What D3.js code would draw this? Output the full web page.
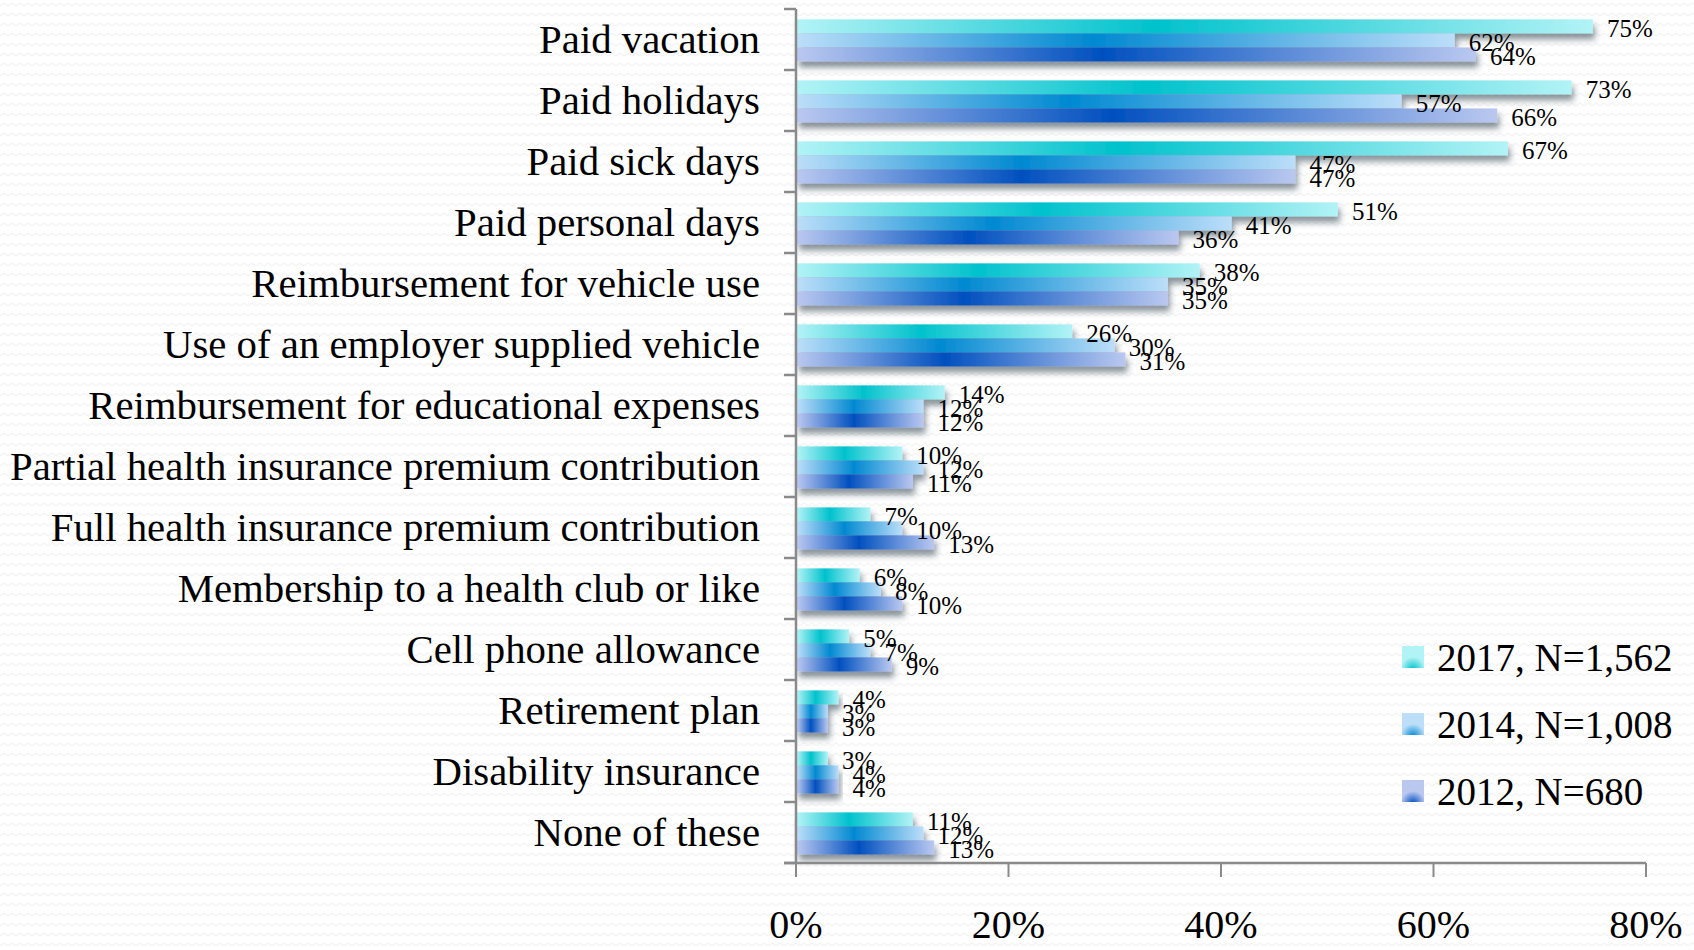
<!DOCTYPE html>
<html>
<head>
<meta charset="utf-8">
<script src="https://cdn.jsdelivr.net/npm/d3@7"></script>
<style>
  body { margin: 0; background: #fff; overflow: hidden; }
  text { font-family: "Liberation Serif", "Times New Roman", serif; fill: #000; }
</style>
</head>
<body>
<script>
const width = 1694;
const height = 950;

// Data
const categories = [
  "Paid vacation",
  "Paid holidays",
  "Paid sick days",
  "Paid personal days",
  "Reimbursement for vehicle use",
  "Use of an employer supplied vehicle",
  "Reimbursement for educational expenses",
  "Partial health insurance premium contribution",
  "Full health insurance premium contribution",
  "Membership to a health club or like",
  "Cell phone allowance",
  "Retirement plan",
  "Disability insurance",
  "None of these"
];
const seriesNames = ["2017, N=1,562", "2014, N=1,008", "2012, N=680"];
const values2017 = [75, 73, 67, 51, 38, 26, 14, 10, 7, 6, 5, 4, 3, 11];
const values2014 = [62, 57, 47, 41, 35, 30, 12, 12, 10, 8, 7, 3, 4, 12];
const values2012 = [64, 66, 47, 36, 35, 31, 12, 11, 13, 10, 9, 3, 4, 13];
const xTicks = [0, 20, 40, 60, 80];

// colours: [edge, centre] for each series gradient
const seriesColors = [
  ["#b2f3f6", "#00c2cc"],
  ["#bcdef9", "#0089d1"],
  ["#bac8f0", "#0050bf"]
];

const allValues = [values2017, values2014, values2012];

const svg = d3.select("body")
  .append("svg")
  .attr("width", width)
  .attr("height", height);

const defs = svg.append("defs");

// zigzag background
const pat = defs.append("pattern")
  .attr("id", "zigzag")
  .attr("patternUnits", "userSpaceOnUse")
  .attr("width", 8)
  .attr("height", 10);
pat.append("path")
  .attr("d", "M0,6 L4,3 L8,6")
  .attr("fill", "none")
  .attr("stroke", "#f3f3f3")
  .attr("stroke-width", 1.4);

svg.append("rect").attr("width", width).attr("height", height).attr("fill", "#fff");
svg.append("rect").attr("width", width).attr("height", height).attr("fill", "url(#zigzag)");

// bar gradients
seriesColors.forEach((c, i) => {
  const g = defs.append("linearGradient")
    .attr("id", "grad" + i)
    .attr("x1", 0).attr("x2", 1).attr("y1", 0).attr("y2", 0);
  g.append("stop").attr("offset", "0%").attr("stop-color", c[0]);
  g.append("stop").attr("offset", "45%").attr("stop-color", c[1]);
  g.append("stop").attr("offset", "100%").attr("stop-color", c[0]);

  const r = defs.append("radialGradient")
    .attr("id", "legGrad" + i)
    .attr("cx", 0.5).attr("cy", 1.05).attr("r", 0.55);
  r.append("stop").attr("offset", "0%").attr("stop-color", c[1]);
  r.append("stop").attr("offset", "100%").attr("stop-color", c[0]);
});

// shadow under each bar group
const shadow = defs.append("filter")
  .attr("id", "shadow")
  .attr("x", "-5%").attr("y", "-20%")
  .attr("width", "115%").attr("height", "160%");
shadow.append("feDropShadow")
  .attr("dx", 2).attr("dy", 6)
  .attr("stdDeviation", 3)
  .attr("flood-color", "#2b3a4a")
  .attr("flood-opacity", 0.55);

// Scales
const x = d3.scaleLinear().domain([0, 80]).range([796, 1646]);
const y = d3.scaleBand().domain(categories).range([9, 863]).padding(0);
const ySub = d3.scaleBand()
  .domain(d3.range(seriesNames.length))
  .range([y.bandwidth() * 0.17, y.bandwidth() * 0.86]);

// Bars
const groups = svg.append("g")
  .selectAll("g")
  .data(categories)
  .join("g")
  .attr("transform", d => `translate(0,${y(d)})`);

groups.append("g")
  .attr("filter", "url(#shadow)")
  .selectAll("rect")
  .data((d, ci) => allValues.map((vals, si) => ({ si, v: vals[ci] })))
  .join("rect")
  .attr("x", x(0) + 1)
  .attr("y", d => ySub(d.si))
  .attr("height", ySub.bandwidth())
  .attr("width", d => x(d.v) - x(0) - 1)
  .attr("fill", d => `url(#grad${d.si})`);

// value labels
groups.selectAll("text.val")
  .data((d, ci) => allValues.map((vals, si) => ({ si, v: vals[ci] })))
  .join("text")
  .attr("class", "val")
  .attr("x", d => x(d.v) + 14)
  .attr("y", d => ySub(d.si) + ySub.bandwidth() / 2 + 11)
  .attr("font-size", 25)
  .text(d => d.v + "%");

// Axes
const axisColor = "#8a8a8a";

svg.append("line")
  .attr("x1", x(0)).attr("x2", x(0))
  .attr("y1", 9).attr("y2", 863)
  .attr("stroke", axisColor).attr("stroke-width", 2.5);

const bounds = categories.map(c => y(c)).concat([863]);
svg.append("g").selectAll("line")
  .data(bounds)
  .join("line")
  .attr("x1", x(0) - 12).attr("x2", x(0))
  .attr("y1", d => d).attr("y2", d => d)
  .attr("stroke", axisColor).attr("stroke-width", 2.5);

svg.append("line")
  .attr("x1", x(0) - 12).attr("x2", x(80))
  .attr("y1", 863).attr("y2", 863)
  .attr("stroke", axisColor).attr("stroke-width", 2.5);

svg.append("g").selectAll("line")
  .data(xTicks)
  .join("line")
  .attr("x1", d => x(d)).attr("x2", d => x(d))
  .attr("y1", 863).attr("y2", 877)
  .attr("stroke", axisColor).attr("stroke-width", 2);

svg.append("g").selectAll("text")
  .data(xTicks)
  .join("text")
  .attr("x", d => x(d))
  .attr("y", 938)
  .attr("text-anchor", "middle")
  .attr("font-size", 40)
  .text(d => d + "%");

// Category labels
svg.append("g").selectAll("text")
  .data(categories)
  .join("text")
  .attr("x", 760)
  .attr("y", d => y(d) + y.bandwidth() / 2 + 13)
  .attr("text-anchor", "end")
  .attr("font-size", 40.8)
  .text(d => d);

// Legend
const legend = svg.append("g")
  .selectAll("g")
  .data(seriesNames)
  .join("g")
  .attr("transform", (d, i) => `translate(1402,${646 + i * 67})`);

legend.append("rect")
  .attr("width", 22).attr("height", 22)
  .attr("fill", (d, i) => `url(#legGrad${i})`);

legend.append("text")
  .attr("x", 35)
  .attr("y", 25)
  .attr("font-size", 39)
  .text(d => d);
</script>
</body>
</html>
